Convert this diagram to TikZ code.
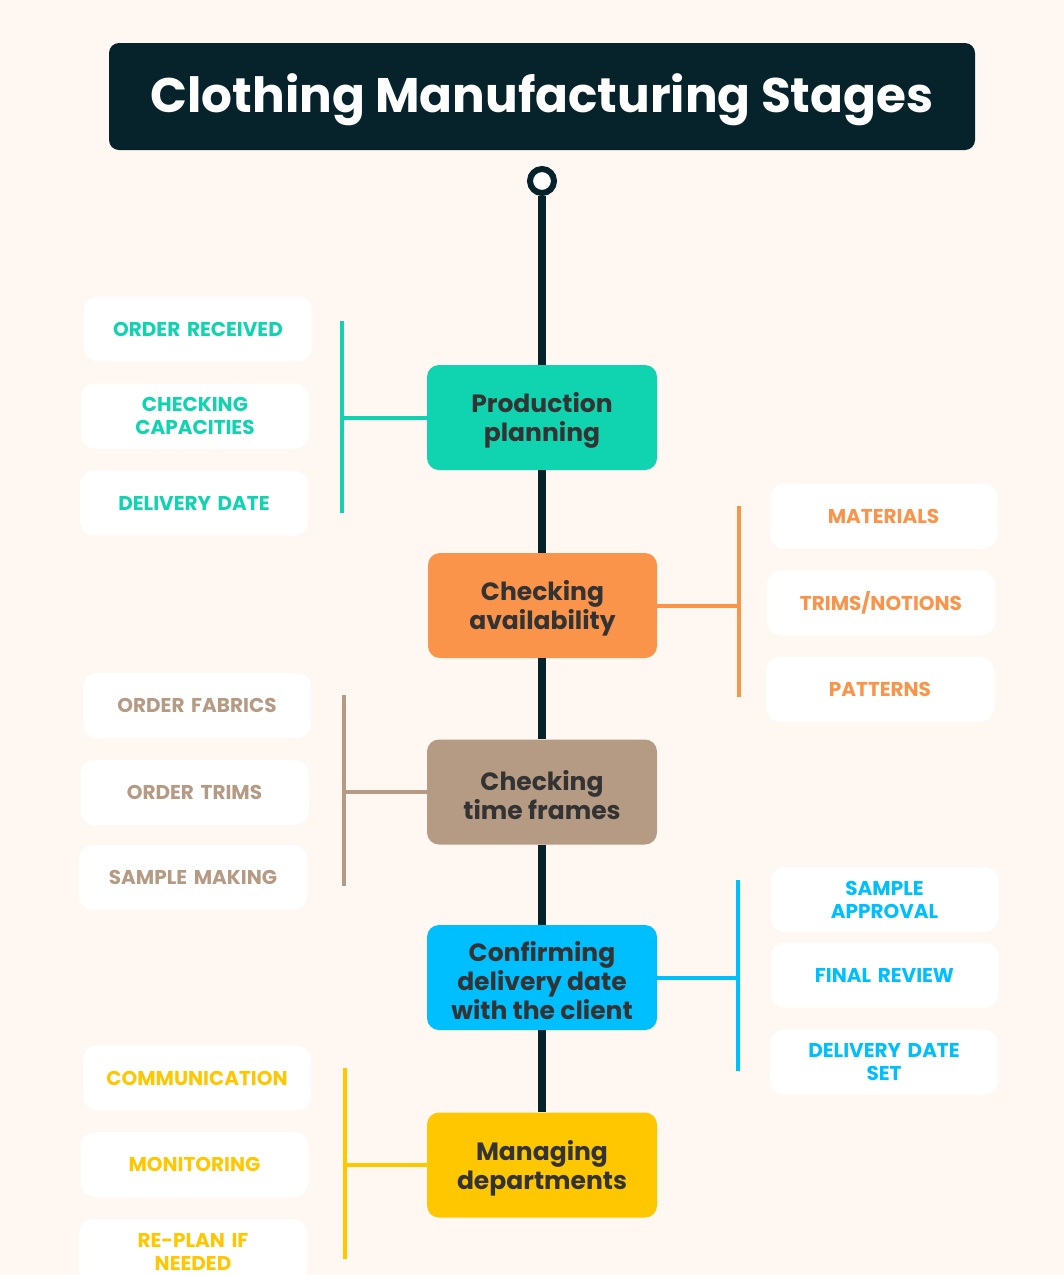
\documentclass[tikz,border=0pt]{standalone}
\usepackage{fontspec}
\setmainfont{Poppins}
\definecolor{bgc}{HTML}{FFF8F2}
\definecolor{darkc}{HTML}{06232B}
\definecolor{txtc}{HTML}{333333}
\definecolor{tealc}{HTML}{10D4B0}
\definecolor{orangec}{HTML}{F9944A}
\definecolor{tanc}{HTML}{B59A84}
\definecolor{bluec}{HTML}{00BFFF}
\definecolor{yellowc}{HTML}{FFC700}
\newcommand\mtxt[1]{\raisebox{-3pt}[\height][\depth]{\parbox{226pt}{\centering #1}}}
\tikzset{
  mainbox/.style={fill=#1, rounded corners=12pt, minimum width=230pt, minimum height=105pt,
    text=txtc, font=\fontsize{25}{29}\selectfont\bfseries, inner sep=0pt},
  subbox/.style={fill=white, rounded corners=14pt, minimum width=228pt, minimum height=65pt,
    align=center, text=#1, font=\fontsize{20}{23}\selectfont\bfseries, inner sep=0pt, text width=220pt},
  brk/.style={draw=#1, line width=4pt},
  spine/.style={draw=darkc, line width=8pt}
}
\begin{document}
\begin{tikzpicture}[x=1pt,y=-1pt]
\useasboundingbox (0,0) rectangle (1064,1275);
\clip (0,0) rectangle (1064,1275);
\fill[bgc] (0,0) rectangle (1064,1275);
% title
\node[fill=darkc, rounded corners=10pt, minimum width=866pt, minimum height=107pt, inner sep=0pt,
  text=white, font=\fontsize{48.5}{54}\selectfont\bfseries] (title) at (542,96.5) {\raisebox{-3pt}[\height][\depth]{Clothing Manufacturing Stages}};
% start circle
\node[circle, draw=darkc, line width=6pt, fill=white, minimum size=24pt, inner sep=0pt] (start) at (542,181) {};
% main boxes
\node[mainbox=tealc] (p1) at (542,417.5) {\mtxt{Production\\planning}};
\node[mainbox=orangec, minimum width=229pt] (p2) at (542.5,605.5) {\mtxt{Checking\\availability}};
\node[mainbox=tanc] (p3) at (542,792) {\mtxt{Checking\\time frames}};
\node[mainbox=bluec] (p4) at (542,977.5) {\mtxt{Confirming\\delivery date\\with the client}};
\node[mainbox=yellowc] (p5) at (542,1165) {\mtxt{Managing\\departments}};
\draw[spine] (start) -- (p1.north);
\draw[spine] (p1.south) -- (p1.south |- p2.north);
\draw[spine] (p2.south -| p1.south) -- (p3.north);
\draw[spine] (p3) -- (p4) -- (p5);
% group 1
\node[subbox=tealc] (a1) at (198,329) {ORDER RECEIVED};
\node[subbox=tealc] (a2) at (195,416) {CHECKING\\CAPACITIES};
\node[subbox=tealc] (a3) at (194,503) {DELIVERY DATE};
\coordinate (b1t) at (342,321); \coordinate (b1b) at (342,513);
\draw[brk=tealc] (b1t) -- (b1b);
\draw[brk=tealc] (p1.west) -- (p1.west -| b1t);
% group 2
\node[subbox=orangec] (c1) at (883.5,516) {MATERIALS};
\node[subbox=orangec] (c2) at (881,603) {TRIMS/NOTIONS};
\node[subbox=orangec] (c3) at (880,689.5) {PATTERNS};
\coordinate (b2t) at (739,506); \coordinate (b2b) at (739,697);
\draw[brk=orangec] (b2t) -- (b2b);
\draw[brk=orangec] (p2.east) -- (p2.east -| b2t);
% group 3
\node[subbox=tanc] (d1) at (197,705.5) {ORDER FABRICS};
\node[subbox=tanc] (d2) at (194.5,792.5) {ORDER TRIMS};
\node[subbox=tanc] (d3) at (193,877.5) {SAMPLE MAKING};
\coordinate (b3t) at (344,695); \coordinate (b3b) at (344,886);
\draw[brk=tanc] (b3t) -- (b3b);
\draw[brk=tanc] (p3.west) -- (p3.west -| b3t);
% group 4
\node[subbox=bluec] (e1) at (884.5,899.5) {SAMPLE\\APPROVAL};
\node[subbox=bluec] (e2) at (884.5,975) {FINAL REVIEW};
\node[subbox=bluec] (e3) at (884,1062) {DELIVERY DATE\\SET};
\coordinate (b4t) at (738,880); \coordinate (b4b) at (738,1071);
\draw[brk=bluec] (b4t) -- (b4b);
\draw[brk=bluec] (p4.east) -- (p4.east -| b4t);
% group 5
\node[subbox=yellowc] (f1) at (197,1078) {COMMUNICATION};
\node[subbox=yellowc] (f2) at (194.5,1164.5) {MONITORING};
\node[subbox=yellowc] (f3) at (193,1251.5) {RE-PLAN IF\\NEEDED};
\coordinate (b5t) at (345,1068); \coordinate (b5b) at (345,1259);
\draw[brk=yellowc] (b5t) -- (b5b);
\draw[brk=yellowc] (p5.west) -- (p5.west -| b5t);
\end{tikzpicture}
\end{document}
